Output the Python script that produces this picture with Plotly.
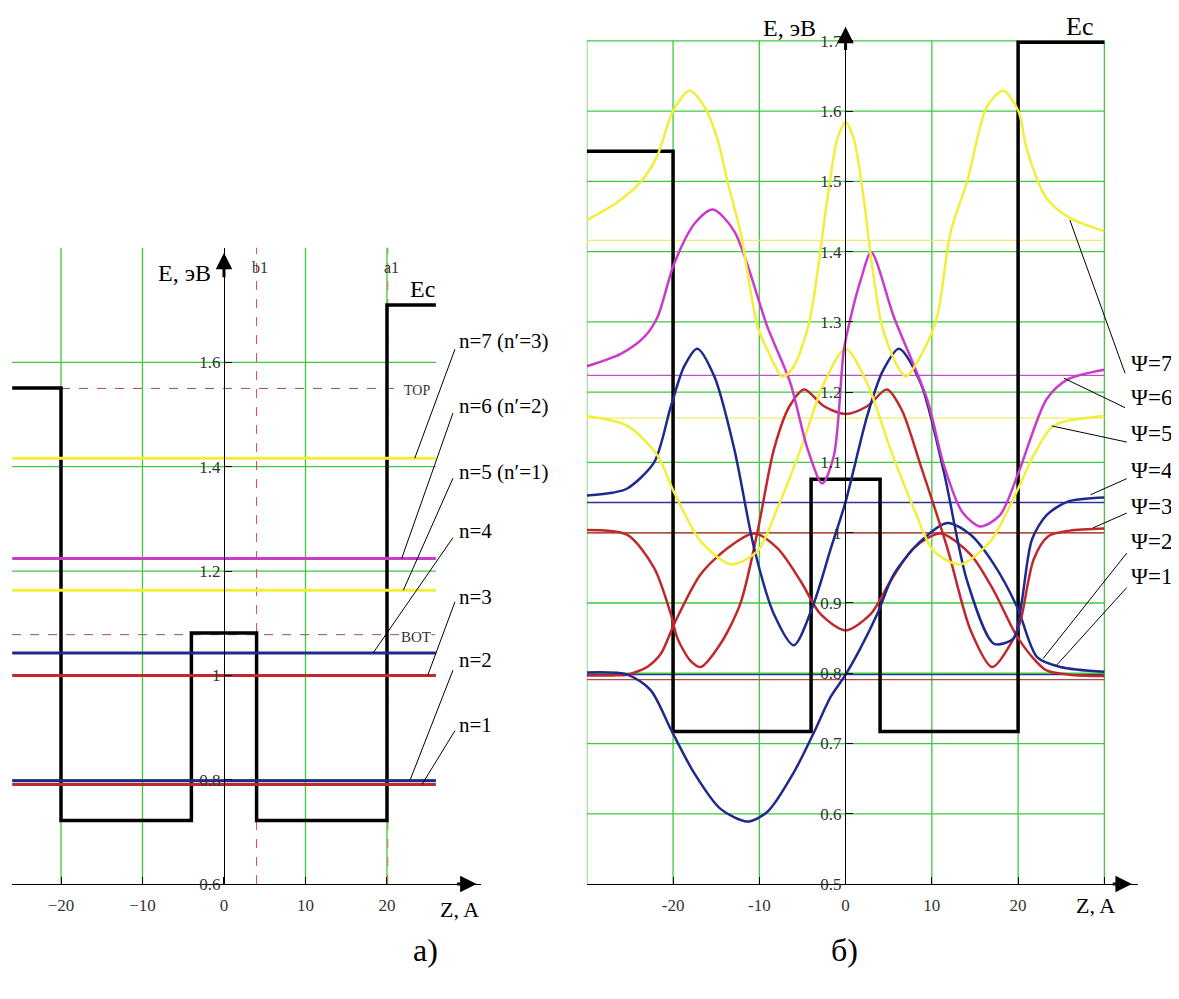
import plotly.graph_objects as go

# ---------------- data ----------------
# energy levels (eV) and their labels / colours
LEVELS = [0.791, 0.798, 1.0, 1.043, 1.163, 1.224, 1.416]
LEVEL_LABELS = ["n=1", "n=2", "n=3", "n=4", "n=5 (n′=1)", "n=6 (n′=2)", "n=7 (n′=3)"]
PSI_LABELS = ["Ψ=1", "Ψ=2", "Ψ=3", "Ψ=4", "Ψ=5", "Ψ=6", "Ψ=7"]
LEVEL_COLORS = ["#c0282c", "#1e2a8c", "#c0282c", "#1e2a8c", "#f2ee3a", "#c83cc8", "#f2ee3a"]
THIN_COLORS = ["#b44a4a", "#2a3590", "#c04545", "#2c3596", "#f0ec6a", "#c050c8", "#f0ec6a"]

# conduction band edge profile
EC_LEFT_Z = [-26, -20, -20, -4, -4, 4, 4, 20, 20, 26]
EC_LEFT_E = [1.551, 1.551, 0.722, 0.722, 1.081, 1.081, 0.722, 0.722, 1.71, 1.71]
EC_RIGHT_Z = [-30, -20, -20, -4, -4, 4, 4, 20, 20, 30]
EC_RIGHT_E = [1.543, 1.543, 0.717, 0.717, 1.076, 1.076, 0.717, 0.717, 1.698, 1.698]

TOP_E = 1.55
BOT_E = 1.078
B1_Z = 4.0
A1_Z = 20.1

# wave functions (offset by level)
PSI1_Z = [-30, -27, -25.3, -23, -21.4, -19.8, -16.8, -13.7, -10.6, -7.9, -5.2, -2.9, 0,
          2.9, 5.2, 7.9, 11, 14.5, 17.2, 19.7, 21.5, 23.3, 26, 30]
PSI1_E = [0.797, 0.797, 0.798, 0.809, 0.828, 0.872, 0.941, 0.978, 0.999, 0.978, 0.931, 0.884, 0.861,
          0.884, 0.931, 0.978, 0.999, 0.969, 0.917, 0.856, 0.825, 0.804, 0.798, 0.796]

PSI2_Z = [-30, -25.3, -22.6, -20.25, -17.6, -14.5, -11.4, -9.06, -6, -3.7, -1.7, 0,
          1.7, 3.7, 5.6, 8.7, 11.8, 14.5, 17.2, 19.9, 22.2, 24.9, 30]
PSI2_E = [0.801, 0.798, 0.776, 0.72, 0.659, 0.607, 0.589, 0.603, 0.659, 0.715, 0.767, 0.798,
          0.835, 0.885, 0.941, 0.988, 1.014, 0.997, 0.955, 0.894, 0.823, 0.809, 0.802]

PSI3_Z = [-30, -25.3, -22.2, -20.25, -19.5, -18, -16.8, -14.5, -12.2, -10.2, -8.3, -6.5, -4.8,
          -2.5, 0, 2.5, 4.8, 6.5, 8.7, 11.8, 14.5, 17, 19.5, 20.3, 21.8, 23.5, 26, 30]
PSI3_E = [1.004, 0.997, 0.95, 0.884, 0.85, 0.818, 0.809, 0.842, 0.899, 1.002, 1.119, 1.18, 1.204,
          1.18, 1.169, 1.18, 1.204, 1.175, 1.096, 0.978, 0.861, 0.809, 0.85, 0.875, 0.962, 0.995, 1.003, 1.006]

PSI4_Z = [-30, -27, -25.3, -22.2, -20.25, -18.7, -17.2, -15.2, -12.9, -10.6, -8.3, -6, -3.7,
          -1.7, 0, 2.5, 4.3, 6.2, 8.7, 11.4, 14.1, 17.2, 19.5, 20.4, 21.6, 23.3, 25.7, 30]
PSI4_E = [1.053, 1.057, 1.063, 1.1, 1.18, 1.237, 1.262, 1.222, 1.119, 0.978, 0.884, 0.84, 0.899,
          0.978, 1.044, 1.166, 1.23, 1.262, 1.213, 1.086, 0.931, 0.842, 0.85, 0.9, 0.99, 1.025, 1.044, 1.05]

PSI5_Z = [-30, -25.3, -21.8, -19.9, -16.8, -13.3, -10.2, -7.9, -5.2, -2.5, 0,
          2.5, 5.2, 7.9, 10.2, 13.3, 16.8, 19.9, 21.8, 24.1, 30]
PSI5_E = [1.166, 1.152, 1.11, 1.058, 0.988, 0.955, 0.974, 1.035, 1.119, 1.213, 1.262,
          1.213, 1.119, 1.035, 0.974, 0.955, 0.988, 1.06, 1.11, 1.152, 1.166]

PSI6_Z = [-30, -26, -23.3, -21.8, -19.9, -17.5, -15.4, -12.9, -9.06, -6.4, -4.4, -2.7, -1.35,
          -0.2, 0.6, 1.74, 2.97, 5.6, 9.45, 11.4, 13.5, 15.6, 17.9, 20.06, 23.3, 25.7, 30]
PSI6_E = [1.237, 1.255, 1.279, 1.307, 1.382, 1.44, 1.46, 1.429, 1.293, 1.213, 1.119, 1.07, 1.11,
          1.26, 1.307, 1.359, 1.399, 1.307, 1.19, 1.096, 1.03, 1.009, 1.025, 1.086, 1.19, 1.218, 1.232]

PSI7_Z = [-30, -26.5, -23.7, -21.8, -20.06, -18.1, -16.4, -14.85, -13.7, -12.2, -10.2, -9.06, -7.3,
          -6, -4.2, -2.1, -0.96, 0, 0.96, 2.1, 2.9, 4.25, 6, 7, 9.06, 10.6, 12.2, 14.1, 16.4,
          18.3, 20.06, 21, 23.3, 26, 30]
PSI7_E = [1.445, 1.47, 1.5, 1.537, 1.599, 1.629, 1.607, 1.56, 1.5, 1.429, 1.293, 1.26, 1.222,
          1.237, 1.3, 1.476, 1.56, 1.584, 1.56, 1.476, 1.396, 1.293, 1.237, 1.222, 1.26, 1.307, 1.429,
          1.5, 1.607, 1.629, 1.599, 1.546, 1.476, 1.448, 1.429]

PSI_Z = [PSI1_Z, PSI2_Z, PSI3_Z, PSI4_Z, PSI5_Z, PSI6_Z, PSI7_Z]
PSI_E = [PSI1_E, PSI2_E, PSI3_E, PSI4_E, PSI5_E, PSI6_E, PSI7_E]

# ticks and grids
LEFT_XTICKS = [-20, -10, 0, 10, 20]
LEFT_YTICKS = [0.6, 0.8, 1.0, 1.2, 1.4, 1.6]
LEFT_YTICKTEXT = ["0.6", "0.8", "1", "1.2", "1.4", "1.6"]
RIGHT_XTICKS = [-30, -20, -10, 0, 10, 20, 30]
RIGHT_XTICKTEXT = ["", "-20", "-10", "0", "10", "20", ""]
RIGHT_YTICKS = [0.5, 0.6, 0.7, 0.8, 0.9, 1.0, 1.1, 1.2, 1.3, 1.4, 1.5, 1.6, 1.7]
RIGHT_YTICKTEXT = ["0.5", "0.6", "0.7", "0.8", "0.9", "1", "1.1", "1.2", "1.3", "1.4", "1.5", "1.6", "1.7"]
LEFT_GRID_Z = [-20, -10, 10, 20]
LEFT_GRID_E = [0.8, 1.0, 1.2, 1.4, 1.6]
RIGHT_GRID_Z = [-30, -20, -10, 10, 20, 30]
RIGHT_GRID_E = [0.6, 0.7, 0.8, 0.9, 1.0, 1.1, 1.2, 1.3, 1.4, 1.5, 1.6, 1.7]

# leader lines: (label-end z, label-end E, curve z)
LEFT_LEADERS = [(28.34, 0.894, 24.3), (28.1, 1.01, 22.8), (28.34, 1.141, 25.0), (28.1, 1.264, 18.3),
                (28.1, 1.378, 22.0), (28.1, 1.503, 21.8), (28.34, 1.625, 23.4)]
LEFT_LABEL_E = [0.904, 1.029, 1.150, 1.276, 1.389, 1.517, 1.640]
RIGHT_LEADERS = [(32.6, 0.922, 24.5, 0.812), (32.6, 0.971, 22.9, 0.821), (32.6, 1.028, 28.7, 1.007),
                 (32.6, 1.077, 28.4, 1.054), (32.6, 1.129, 23.9, 1.152), (32.4, 1.178, 25.3, 1.220),
                 (32.4, 1.227, 26.0, 1.445)]
RIGHT_LABEL_E = [0.938, 0.987, 1.037, 1.089, 1.141, 1.192, 1.241]

# ---------------- layout geometry ----------------
# the page body has an 8px margin, so the figure is made 8px smaller and
# all reference pixel positions are shifted by that offset
OFF = 8
W, H = 1179 - OFF, 999 - OFF


def fx(X):
    return (X - OFF) / W


def fy(Y):
    return 1 - (Y - OFF) / H


LX_RANGE = [-26, 31.5]
LY_RANGE = [0.6, 1.82]
RX_RANGE = [-30, 33.9]
RY_RANGE = [0.5, 1.72]
LX_DOM = [fx(12.1), fx(480.7)]
LY_DOM = [fy(893), fy(250)]
RX_DOM = [fx(586.8), fx(1138)]
RY_DOM = [fy(893), fy(27)]

SERIF = "Liberation Serif, Times New Roman, serif"
GREEN = "#3fc83f"


def paper(z, e, xr, yr, xd, yd):
    px = xd[0] + (z - xr[0]) / (xr[1] - xr[0]) * (xd[1] - xd[0])
    py = yd[0] + (e - yr[0]) / (yr[1] - yr[0]) * (yd[1] - yd[0])
    return px, py


def lp(z, e):
    return paper(z, e, LX_RANGE, LY_RANGE, LX_DOM, LY_DOM)


def rp(z, e):
    return paper(z, e, RX_RANGE, RY_RANGE, RX_DOM, RY_DOM)


fig = go.Figure()
shapes = []
annotations = []

# ---------- grids ----------
for z in LEFT_GRID_Z:
    shapes.append(dict(type="line", xref="x", yref="y", x0=z, x1=z, y0=LY_RANGE[0], y1=LY_RANGE[1],
                       line=dict(color=GREEN, width=1.3), layer="below"))
for e in LEFT_GRID_E:
    shapes.append(dict(type="line", xref="x", yref="y", x0=-26, x1=26, y0=e, y1=e,
                       line=dict(color=GREEN, width=1.3), layer="below"))
for z in RIGHT_GRID_Z:
    shapes.append(dict(type="line", xref="x2", yref="y2", x0=z, x1=z, y0=0.5, y1=1.7,
                       line=dict(color=GREEN, width=1.3), layer="below"))
for e in RIGHT_GRID_E:
    shapes.append(dict(type="line", xref="x2", yref="y2", x0=-30, x1=30, y0=e, y1=e,
                       line=dict(color=GREEN, width=1.3), layer="below"))

# dashed reference lines (left)
shapes.append(dict(type="line", xref="x", yref="y", x0=B1_Z, x1=B1_Z, y0=LY_RANGE[0], y1=LY_RANGE[1],
                   line=dict(color="#d84848", width=1, dash="dash"), layer="below"))
shapes.append(dict(type="line", xref="x", yref="y", x0=A1_Z, x1=A1_Z, y0=LY_RANGE[0], y1=LY_RANGE[1],
                   line=dict(color="#b8862b", width=1, dash="dash"), layer="below"))
shapes.append(dict(type="line", xref="x", yref="y", x0=-20, x1=26, y0=TOP_E, y1=TOP_E,
                   line=dict(color="#a84a4a", width=1, dash="dash"), layer="below"))
shapes.append(dict(type="line", xref="x", yref="y", x0=-26, x1=26, y0=BOT_E, y1=BOT_E,
                   line=dict(color="#a84a4a", width=1, dash="dash"), layer="below"))

# ---------- left panel traces ----------
fig.add_trace(go.Scatter(x=EC_LEFT_Z, y=EC_LEFT_E, mode="lines", xaxis="x", yaxis="y",
                         line=dict(color="black", width=3.5), hoverinfo="skip"))
for lev, col in zip(LEVELS, LEVEL_COLORS):
    fig.add_trace(go.Scatter(x=[-26, 26], y=[lev, lev], mode="lines", xaxis="x", yaxis="y",
                             line=dict(color=col, width=3), hoverinfo="skip"))

# ---------- right panel traces ----------
for lev, col in zip(LEVELS, THIN_COLORS):
    fig.add_trace(go.Scatter(x=[-30, 30], y=[lev, lev], mode="lines", xaxis="x2", yaxis="y2",
                             line=dict(color=col, width=1.3), hoverinfo="skip"))
fig.add_trace(go.Scatter(x=EC_RIGHT_Z, y=EC_RIGHT_E, mode="lines", xaxis="x2", yaxis="y2",
                         line=dict(color="black", width=3.5), hoverinfo="skip"))
for zs, es, col in zip(PSI_Z, PSI_E, LEVEL_COLORS):
    fig.add_trace(go.Scatter(x=zs, y=es, mode="lines", xaxis="x2", yaxis="y2",
                             line=dict(color=col, width=2.5, shape="spline", smoothing=0.8),
                             hoverinfo="skip"))

# ---------- leader lines ----------
for (za, ea, zc), lev in zip(LEFT_LEADERS, LEVELS):
    shapes.append(dict(type="line", xref="x", yref="y", x0=za, y0=ea, x1=zc, y1=lev,
                       line=dict(color="black", width=1)))
for (za, ea, zc, ec) in RIGHT_LEADERS:
    shapes.append(dict(type="line", xref="x2", yref="y2", x0=za, y0=ea, x1=zc, y1=ec,
                       line=dict(color="black", width=1)))


# ---------- text ----------
def text(px, py, s, size, xanchor="center", yanchor="middle", color="black", bg=None):
    d = dict(x=px, y=py, xref="paper", yref="paper", text=s, showarrow=False,
             xanchor=xanchor, yanchor=yanchor, font=dict(family=SERIF, size=size, color=color))
    if bg:
        d["bgcolor"] = bg
        d["borderpad"] = 0
    annotations.append(d)


for lab, e in zip(LEVEL_LABELS, LEFT_LABEL_E):
    px, py = lp(28.6, e)
    text(px, py, lab, 21, xanchor="left")
for lab, e in zip(PSI_LABELS, RIGHT_LABEL_E):
    px, py = rp(32.8, e)
    text(px, py, lab, 23, xanchor="left")

px, py = lp(-1.3, 1.772); text(px, py, "E, эВ", 24, xanchor="right")
px, py = lp(4.4, 1.782); text(px, py, "b1", 16, color="#333")
px, py = lp(20.5, 1.782); text(px, py, "a1", 16, color="#333")
px, py = lp(24.4, 1.740); text(px, py, "Ec", 24)
px, py = lp(23.7, 1.546); text(px, py, "TOP", 14, color="#333", bg="white")
px, py = lp(23.6, 1.074); text(px, py, "BOT", 15, color="#333", bg="white")
px, py = lp(26.3, 0.552); text(px, py, "Z, A", 22, xanchor="left")

px, py = rp(-3.2, 1.718); text(px, py, "E, эВ", 24, xanchor="right")
px, py = rp(27.1, 1.72); text(px, py, "Ec", 26)
px, py = rp(26.5, 0.469); text(px, py, "Z, A", 22, xanchor="left")

text(fx(425), fy(960), "а)", 32)
text(fx(845), fy(960), "б)", 32)


# ---------- axis arrows ----------
def arrow(xref, yref, x, y, ax, ay):
    annotations.append(dict(x=x, y=y, ax=ax, ay=ay, xref=xref, yref=yref, axref=xref, ayref=yref,
                            text="", showarrow=True, arrowhead=2, arrowsize=1.1, arrowwidth=3,
                            arrowcolor="black", standoff=0, startstandoff=0))


arrow("x", "y", 0, 1.81, 0, 1.76)
arrow("x", "y", 31.0, 0.6, 28.4, 0.6)
arrow("x2", "y2", 0, 1.72, 0, 1.685)
arrow("x2", "y2", 33.2, 0.5, 30.8, 0.5)

axis_common = dict(showgrid=False, zeroline=False, showline=True, linecolor="black", linewidth=1,
                   ticks="inside", ticklen=7, tickcolor="black", fixedrange=True,
                   tickfont=dict(family=SERIF, size=17, color="#333"))

fig.update_layout(
    width=W, height=H, margin=dict(l=0, r=0, t=0, b=0),
    paper_bgcolor="white", plot_bgcolor="white", showlegend=False,
    xaxis=dict(domain=LX_DOM, range=LX_RANGE, anchor="y", tickvals=LEFT_XTICKS,
               ticklabelstandoff=6, **axis_common),
    yaxis=dict(domain=LY_DOM, range=LY_RANGE, anchor="free", position=fx(224),
               tickvals=LEFT_YTICKS, ticktext=LEFT_YTICKTEXT, **axis_common),
    xaxis2=dict(domain=RX_DOM, range=RX_RANGE, anchor="y2", tickvals=RIGHT_XTICKS,
                ticktext=RIGHT_XTICKTEXT, ticklabelstandoff=6, **axis_common),
    yaxis2=dict(domain=RY_DOM, range=RY_RANGE, anchor="free", position=fx(845),
                tickvals=RIGHT_YTICKS, ticktext=RIGHT_YTICKTEXT, **axis_common),
    shapes=shapes,
    annotations=annotations,
)

fig.write_html("out.html")
